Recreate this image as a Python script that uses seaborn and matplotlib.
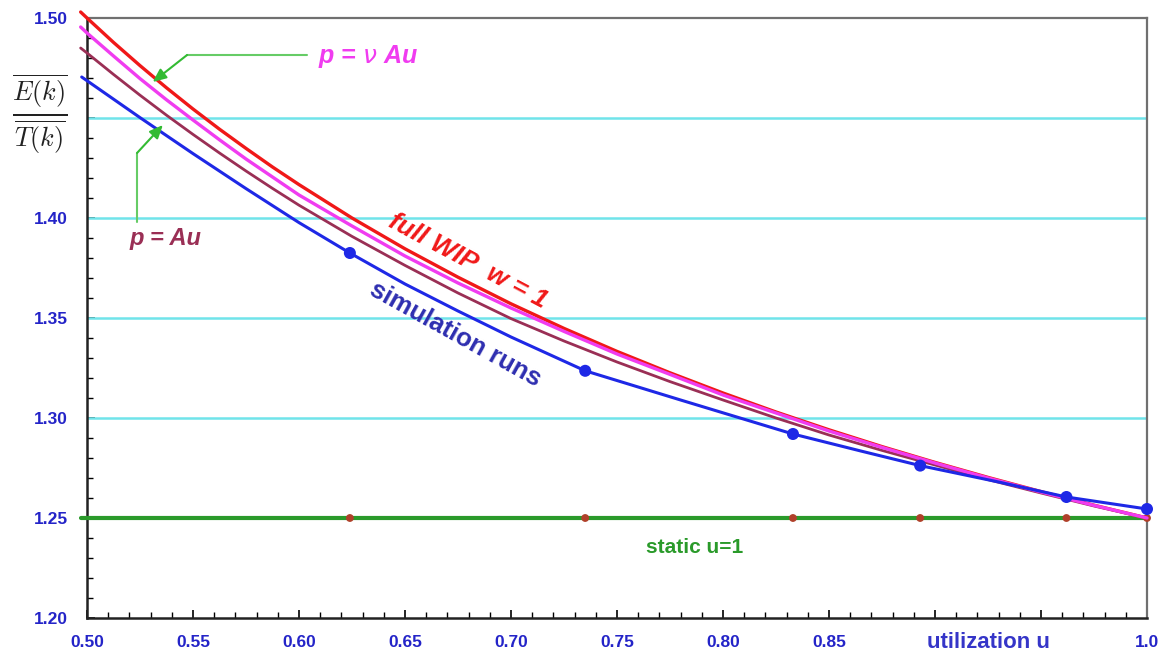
import matplotlib
matplotlib.use("Agg")
import matplotlib.pyplot as plt
from matplotlib.ticker import MultipleLocator, FixedLocator, FixedFormatter
import seaborn as sns
import pandas as pd

# ---------------- data ----------------
u_curve = [0.497, 0.50, 0.5125, 0.525, 0.5375, 0.55, 0.5625, 0.575, 0.5875, 0.60, 0.625, 0.65, 0.675,
           0.70, 0.725, 0.75, 0.775, 0.80, 0.825, 0.85, 0.875, 0.90, 0.925, 0.95, 0.975, 1.00]
full_wip = [1.503, 1.500, 1.4878, 1.4762, 1.4651, 1.4545, 1.4444, 1.4348, 1.4255, 1.4167, 1.4000, 1.3846,
            1.3704, 1.3571, 1.3448, 1.3333, 1.3226, 1.3125, 1.3030, 1.2941, 1.2857, 1.2778, 1.2703,
            1.2632, 1.2564, 1.2500]
p_nu_au = [1.4955, 1.4925, 1.4810, 1.4697, 1.4591, 1.4490, 1.4391, 1.4295, 1.4205, 1.4115, 1.3960, 1.3810,
           1.3675, 1.3550, 1.3433, 1.3320, 1.3218, 1.3115, 1.3025, 1.2935, 1.2853, 1.2775, 1.2700,
           1.2630, 1.2563, 1.2500]
p_au = [1.4850, 1.4825, 1.4718, 1.4614, 1.4514, 1.4418, 1.4325, 1.4235, 1.4148, 1.4064, 1.3908, 1.3763,
        1.3625, 1.3497, 1.3385, 1.3280, 1.3182, 1.3090, 1.3000, 1.2915, 1.2838, 1.2765, 1.2692,
        1.2625, 1.2560, 1.2500]

u_sim = [0.4975, 0.525, 0.55, 0.575, 0.60, 0.624, 0.65, 0.675, 0.70, 0.735, 0.78, 0.833,
         0.865, 0.893, 0.93, 0.962, 1.0]
sim_curve = [1.4705, 1.4502, 1.4322, 1.4147, 1.3977, 1.3825, 1.367, 1.3535, 1.3405, 1.3236, 1.309, 1.292,
             1.2835, 1.2762, 1.268, 1.2605, 1.2545]

u_runs = [0.624, 0.735, 0.833, 0.893, 0.962, 1.0]
sim_runs = [1.3825, 1.3236, 1.292, 1.2762, 1.2605, 1.2545]

u_static = [0.497, 1.0]
static_val = [1.25, 1.25]
static_runs = [1.25, 1.25, 1.25, 1.25, 1.25, 1.25]

x_ticks = [0.50, 0.55, 0.60, 0.65, 0.70, 0.75, 0.80, 0.85, 0.90, 0.95, 1.00]
x_tick_labels = ["0.50", "0.55", "0.60", "0.65", "0.70", "0.75", "0.80", "0.85", "", "", "1.0"]
y_ticks = [1.20, 1.25, 1.30, 1.35, 1.40, 1.45, 1.50]
y_tick_labels = ["1.20", "1.25", "1.30", "1.35", "1.40", "", "1.50"]
grid_levels = [1.30, 1.35, 1.40, 1.45]

# ---------------- style ----------------
sns.set_style("white")
plt.rcParams["font.family"] = ["Liberation Sans", "DejaVu Sans"]
plt.rcParams["mathtext.fontset"] = "cm"

RED = "#f01818"
MAGENTA = "#f03cf0"
BROWN = "#9a2f55"
BLUE = "#1e28e6"
GREEN = "#2a9a2a"
CYAN = "#70e4ea"
TICKBLUE = "#2424c8"
ARROWGREEN = "#66cc66"

fig = plt.figure(figsize=(11.62, 6.63), dpi=100)
ax = fig.add_axes([87 / 1162, 1 - 618 / 663, (1147 - 87) / 1162, 600 / 663])

for g in grid_levels:
    ax.axhline(g, color=CYAN, lw=1.8, zorder=1)

df_curves = pd.DataFrame({"u": u_curve, "full": full_wip, "nu": p_nu_au, "au": p_au})
df_sim = pd.DataFrame({"u": u_sim, "v": sim_curve})
df_runs = pd.DataFrame({"u": u_runs, "v": sim_runs, "s": static_runs})
df_static = pd.DataFrame({"u": u_static, "v": static_val})

sns.lineplot(data=df_static, x="u", y="v", ax=ax, color=GREEN, lw=3.0, clip_on=False, zorder=3)
sns.scatterplot(data=df_runs, x="u", y="s", ax=ax, color="#b0402a", s=32, edgecolor="none",
                clip_on=False, zorder=4)
sns.lineplot(data=df_curves, x="u", y="full", ax=ax, color=RED, lw=2.4, clip_on=False, zorder=5)
sns.lineplot(data=df_curves, x="u", y="au", ax=ax, color=BROWN, lw=2.0, clip_on=False, zorder=6)
sns.lineplot(data=df_curves, x="u", y="nu", ax=ax, color=MAGENTA, lw=2.4, clip_on=False, zorder=7)
sns.lineplot(data=df_sim, x="u", y="v", ax=ax, color=BLUE, lw=2.2, clip_on=False, zorder=8)
sns.scatterplot(data=df_runs, x="u", y="v", ax=ax, color=BLUE, s=75, edgecolor="none",
                clip_on=False, zorder=9)

ax.set_xlim(0.5, 1.0)
ax.set_ylim(1.2, 1.5)
ax.set_xlabel("")
ax.set_ylabel("")

ax.xaxis.set_major_locator(FixedLocator(x_ticks))
ax.xaxis.set_major_formatter(FixedFormatter(x_tick_labels))
ax.yaxis.set_major_locator(FixedLocator(y_ticks))
ax.yaxis.set_major_formatter(FixedFormatter(y_tick_labels))
ax.xaxis.set_minor_locator(MultipleLocator(0.01))
ax.yaxis.set_minor_locator(MultipleLocator(0.01))
ax.tick_params(axis="both", which="both", direction="in", color="black",
               bottom=True, left=True, top=False, right=False)
ax.tick_params(axis="both", which="major", length=6, width=1.2)
ax.tick_params(axis="both", which="minor", length=4, width=1.0)
ax.tick_params(axis="x", which="major", pad=12, labelsize=12.5, labelcolor=TICKBLUE)
ax.tick_params(axis="y", which="major", pad=14, labelsize=12.5, labelcolor=TICKBLUE)
for lab in ax.get_xticklabels() + ax.get_yticklabels():
    lab.set_fontweight("bold")

for side in ["left", "bottom"]:
    ax.spines[side].set_color("#222222")
    ax.spines[side].set_linewidth(1.8)
for side in ["top", "right"]:
    ax.spines[side].set_color("#707070")
    ax.spines[side].set_linewidth(1.6)

# y label as a fraction
ax.text(-0.045, 0.84, r"$\frac{\overline{E(k)}}{\overline{T(k)}}$", transform=ax.transAxes,
        ha="center", va="center", fontsize=27, color="#222222")

# in-plot labels
ax.text(0.6797, 1.3785, "full WIP  w = 1", color=RED, fontsize=19, fontweight="bold",
        fontstyle="italic", rotation=-28, ha="center", va="center", rotation_mode="anchor", zorder=10)
ax.text(0.6736, 1.342, "simulation runs", color="#2e2eb0", fontsize=18.5, fontweight="bold",
        rotation=-29, ha="center", va="center", rotation_mode="anchor", zorder=10)
ax.text(0.7868, 1.235, "static u=1", color=GREEN, fontsize=15, fontweight="bold",
        ha="center", va="center")
ax.text(0.925, 1.188, "utilization u", color="#3535c8", fontsize=16, fontweight="bold",
        ha="center", va="center", clip_on=False)

ax.text(0.6325, 1.4805, r"p = $\nu$ Au", color=MAGENTA, fontsize=18, fontweight="bold",
        fontstyle="italic", ha="center", va="center", math_fontfamily="dejavusans")
ax.text(0.537, 1.39, "p = Au", color=BROWN, fontsize=17, fontweight="bold",
        fontstyle="italic", ha="center", va="center")

# green connectors with arrows
ax.plot([0.6038, 0.5472], [1.4815, 1.4815], color=ARROWGREEN, lw=1.5, zorder=11)
ax.annotate("", xy=(0.531, 1.468), xytext=(0.5472, 1.4815),
            arrowprops=dict(arrowstyle="-|>,head_length=0.8,head_width=0.35", color="#33bb33",
                            lw=1.5, shrinkA=0, shrinkB=0), zorder=11)
ax.plot([0.5236, 0.5236], [1.398, 1.4325], color=ARROWGREEN, lw=1.5, zorder=11)
ax.annotate("", xy=(0.5358, 1.4465), xytext=(0.5236, 1.4325),
            arrowprops=dict(arrowstyle="-|>,head_length=0.8,head_width=0.35", color="#33bb33",
                            lw=1.5, shrinkA=0, shrinkB=0), zorder=11)

fig.savefig("out.png", dpi=100)
